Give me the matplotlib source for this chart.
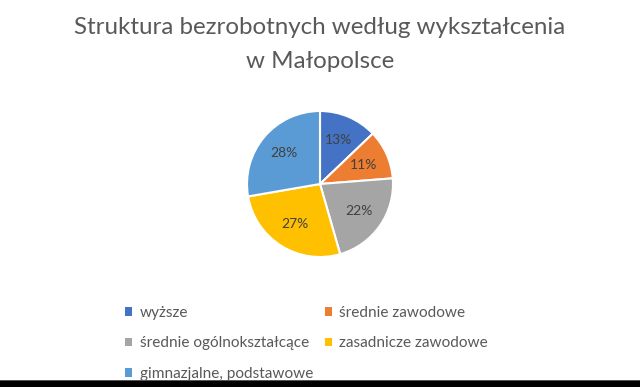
import matplotlib.pyplot as plt
from matplotlib.patches import Patch, Rectangle

categories = ['wyższe', 'średnie zawodowe', 'średnie ogólnokształcące',
              'zasadnicze zawodowe', 'gimnazjalne, podstawowe']
values = [13, 11, 22, 27, 28]
colors = ['#4472C4', '#ED7D31', '#A5A5A5', '#FFC000', '#5B9BD5']

plt.rcParams['font.family'] = ['Lato', 'DejaVu Sans']

W, H = 640, 387
fig = plt.figure(figsize=(W / 100, H / 100), dpi=100)

# title
fig.text(0.5, 1 - 27 / H, 'Struktura bezrobotnych według wykształcenia',
         ha='center', va='center', fontsize=17.4, color='#595959')
fig.text(0.5, 1 - 61 / H, 'w Małopolsce',
         ha='center', va='center', fontsize=17.4, color='#595959')

# pie
cx, cy, r = 320, 184, 73
ax = fig.add_axes([(cx - r) / W, (H - cy - r) / H, 2 * r / W, 2 * r / H])
wedges, texts, autotexts = ax.pie(
    values, colors=colors, startangle=90, counterclock=False,
    autopct='%1.0f%%', pctdistance=0.65,
    wedgeprops=dict(edgecolor='white', linewidth=1.5),
    textprops=dict(color='#404040', fontsize=10))
ax.set_xlim(-1, 1)
ax.set_ylim(-1, 1)
ax.set_aspect('equal')

# legend, row-wise order
handles = [Patch(facecolor=c, edgecolor='none') for c in colors]
order = [0, 2, 4, 1, 3]
leg = fig.legend([handles[i] for i in order], [categories[i] for i in order],
                 ncol=2, loc='upper left', bbox_to_anchor=(125 / W, 1 - 306 / H),
                 frameon=False, fontsize=11.1, labelcolor='#595959',
                 handlelength=0.45, handleheight=0.45, handletextpad=0.5,
                 columnspacing=0.75, labelspacing=1.07, borderpad=0, borderaxespad=0)

# black strip at the bottom
fig.add_artist(Rectangle((0, 0), 1, 6 / H, transform=fig.transFigure,
                         facecolor='black', edgecolor='none'))
fig.add_artist(Rectangle((0, 6 / H), 1, 1 / H, transform=fig.transFigure,
                         facecolor='#555555', edgecolor='none'))

fig.savefig('out.png', dpi=100, facecolor='white')
